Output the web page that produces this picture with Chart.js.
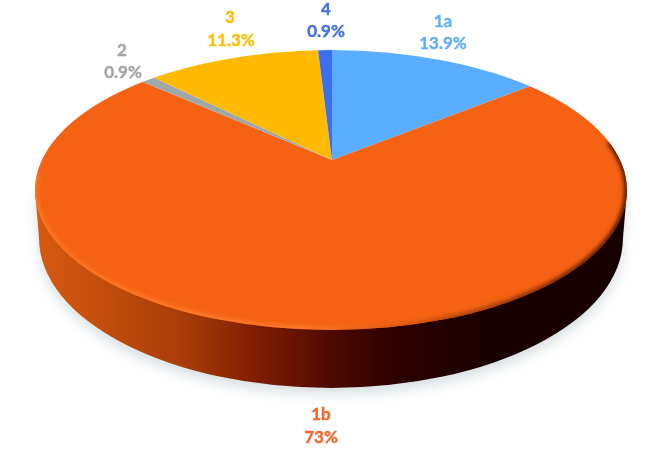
<!DOCTYPE html>
<html>
<head>
<meta charset="utf-8">
<title>Pie</title>
<script src="https://cdn.jsdelivr.net/npm/chart.js@4"></script>
<style>
  html, body { margin: 0; padding: 0; background: #fff; }
  canvas { display: block; }
</style>
</head>
<body>
<canvas id="pie" width="663" height="449"></canvas>
<script>
const categories = ['1a', '1b', '2', '3', '4'];
const shares     = [13.9, 73, 0.9, 11.3, 0.9];
const sliceColors = ['#5AADFF', '#F66213', '#9FA8A8', '#FFB900', '#3A6FF0'];
const textColors  = ['#63B0F5', '#F4672A', '#A5A5A5', '#FFBE0A', '#4472E0'];

/* ------------ look of the disc ------------ */
const APEX = { x: 332, y: 160 };     // where the slices meet
const TILT = 0.445;                  // vertical squash of the pie
const TOP  = { x: 331, y: 190, rx: 296, ry: 140 };
const BASE = { x: 331, y: 238, rx: 292, ry: 150 };
const labelSpots = { '1a': [443, 443], '1b': [321, 321], '2': [122, 123], '3': [230, 231], '4': [326, 326] };
const labelLines = { '1a': [27, 49], '1b': [420, 443], '2': [56, 78], '3': [23, 46], '4': [15, 37] };

function ellipsePath(ctx, e) {
  ctx.beginPath();
  ctx.ellipse(e.x, e.y, e.rx, e.ry, 0, 0, Math.PI * 2);
}

const disc3d = {
  id: 'disc3d',
  beforeDatasetsDraw(chart) {
    const ctx = chart.ctx;
    // side wall, with a soft shadow on the paper
    const wall = ctx.createLinearGradient(36, 0, 627, 0);
    wall.addColorStop(0,    '#D8590F');
    wall.addColorStop(0.1,  '#C44E0C');
    wall.addColorStop(0.25, '#A83C08');
    wall.addColorStop(0.37, '#801E02');
    wall.addColorStop(0.5,  '#4E0A00');
    wall.addColorStop(0.62, '#2A0000');
    wall.addColorStop(0.78, '#1A0000');
    wall.addColorStop(1,    '#180000');
    ctx.save();
    ctx.shadowColor = 'rgba(130,155,165,0.3)';
    ctx.shadowBlur = 12;
    ctx.shadowOffsetY = 7;
    ctx.fillStyle = wall;
    ctx.beginPath();
    ctx.moveTo(TOP.x - TOP.rx, TOP.y);
    ctx.lineTo(BASE.x - BASE.rx, BASE.y);
    ctx.ellipse(BASE.x, BASE.y, BASE.rx, BASE.ry, 0, Math.PI, 0, true);
    ctx.lineTo(TOP.x + TOP.rx, TOP.y);
    ctx.closePath();
    ctx.fill();
    ctx.restore();

    // the pie itself: keep to the top ellipse, squashed around the apex
    const arc = chart.getDatasetMeta(0).data[0];
    ctx.save();
    ellipsePath(ctx, TOP);
    ctx.clip();
    ctx.translate(APEX.x, APEX.y);
    ctx.scale(1, TILT);
    ctx.translate(-arc.x, -arc.y);
  },
  afterDatasetsDraw(chart) {
    const ctx = chart.ctx;
    ctx.restore();

    // bevel along the front rim
    const rim = ctx.createLinearGradient(36, 0, 627, 0);
    rim.addColorStop(0,    '#FB7A28');
    rim.addColorStop(0.45, '#FC8030');
    rim.addColorStop(0.62, '#D25A10');
    rim.addColorStop(0.8,  '#8A3208');
    rim.addColorStop(1,    '#3A0F00');
    ctx.save();
    ellipsePath(ctx, TOP);
    ctx.clip();
    ctx.filter = 'blur(2px)';
    ctx.strokeStyle = rim;
    ctx.lineWidth = 5;
    ctx.beginPath();
    ctx.ellipse(TOP.x, TOP.y, TOP.rx, TOP.ry, 0, -0.35, Math.PI + 0.12);
    ctx.stroke();
    ctx.restore();
  },
  afterDraw(chart) {
    const ctx = chart.ctx;
    ctx.save();
    ctx.font = 'bold 17px Lato, sans-serif';
    ctx.textAlign = 'center';
    ctx.textBaseline = 'alphabetic';
    ctx.lineWidth = 0.4;
    categories.forEach((name, i) => {
      ctx.fillStyle = textColors[i];
      ctx.strokeStyle = textColors[i];
      const pct = `${shares[i]}%`;
      ctx.fillText(name, labelSpots[name][0], labelLines[name][0]);
      ctx.strokeText(name, labelSpots[name][0], labelLines[name][0]);
      ctx.fillText(pct, labelSpots[name][1], labelLines[name][1]);
      ctx.strokeText(pct, labelSpots[name][1], labelLines[name][1]);
    });
    ctx.restore();
  }
};

new Chart(document.getElementById('pie'), {
  type: 'pie',
  data: {
    labels: categories,
    datasets: [{
      data: shares,
      backgroundColor: sliceColors,
      borderWidth: 0,
      clip: false
    }]
  },
  options: {
    responsive: false,
    animation: false,
    radius: 520,
    plugins: { legend: { display: false }, tooltip: { enabled: false } }
  },
  plugins: [disc3d]
});
</script>
</body>
</html>
